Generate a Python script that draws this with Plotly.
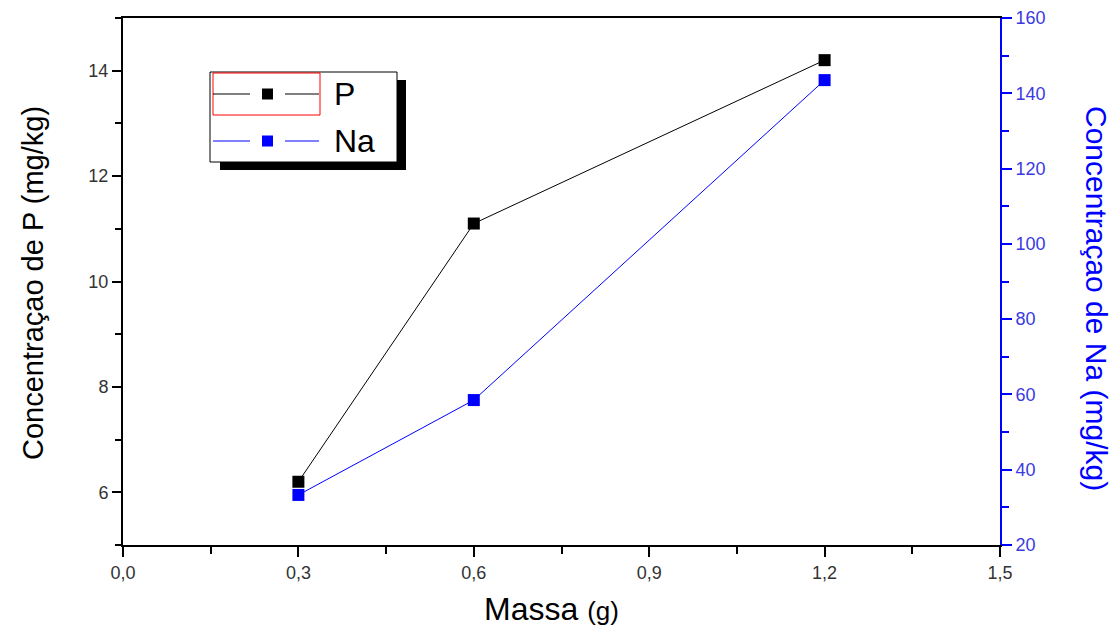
import plotly.graph_objects as go

# Data
massa = [0.3, 0.6, 1.2]
conc_p = [6.2, 11.1, 14.2]
conc_na = [33.3, 58.5, 143.5]
x_ticks = [0.0, 0.3, 0.6, 0.9, 1.2, 1.5]
x_ticklabels = ["0,0", "0,3", "0,6", "0,9", "1,2", "1,5"]
p_ticks = [6, 8, 10, 12, 14]
na_ticks = [20, 40, 60, 80, 100, 120, 140, 160]

W, H = 1116, 633
L, R, T, B = 123, 1000, 18, 545
BLUE = "#0000ff"
FONT = "Liberation Sans, Arial, sans-serif"

def px(x):
    return (x - L) / (R - L)

def py(y):
    return (B - y) / (B - T)

fig = go.Figure()
fig.add_trace(go.Scatter(
    x=massa, y=conc_p, mode="lines+markers", name="P",
    line=dict(color="black", width=1),
    marker=dict(symbol="square", size=12, color="black"),
    showlegend=False))
fig.add_trace(go.Scatter(
    x=massa, y=conc_na, mode="lines+markers", name="Na", yaxis="y2",
    line=dict(color=BLUE, width=1),
    marker=dict(symbol="square", size=12, color=BLUE),
    showlegend=False))

shapes = []
# legend shadow & box
shapes.append(dict(type="rect", xref="paper", yref="paper",
                   x0=px(220), x1=px(406), y0=py(80), y1=py(170),
                   fillcolor="black", line=dict(width=0), layer="above"))
shapes.append(dict(type="rect", xref="paper", yref="paper",
                   x0=px(210), x1=px(397), y0=py(72), y1=py(162),
                   fillcolor="white", line=dict(color="black", width=1), layer="above"))
shapes.append(dict(type="rect", xref="paper", yref="paper",
                   x0=px(213), x1=px(320), y0=py(73), y1=py(115),
                   fillcolor="rgba(0,0,0,0)", line=dict(color="red", width=1), layer="above"))
for yy, col in [(94, "black"), (141, BLUE)]:
    for xa, xb in [(213, 250), (285, 319)]:
        shapes.append(dict(type="line", xref="paper", yref="paper",
                           x0=px(xa), x1=px(xb), y0=py(yy), y1=py(yy),
                           line=dict(color=col, width=1), layer="above"))
    shapes.append(dict(type="rect", xref="paper", yref="paper",
                       x0=px(262), x1=px(273), y0=py(yy - 5.5), y1=py(yy + 5.5),
                       fillcolor=col, line=dict(width=0), layer="above"))

annotations = [
    dict(text="P", x=px(332), y=py(94), xref="paper", yref="paper",
         xanchor="left", yanchor="middle", showarrow=False,
         font=dict(family=FONT, size=32, color="black")),
    dict(text="Na", x=px(332), y=py(141), xref="paper", yref="paper",
         xanchor="left", yanchor="middle", showarrow=False,
         font=dict(family=FONT, size=32, color="black")),
    dict(text="Concentraçao de P (mg/kg)", x=px(33), y=py(283),
         xref="paper", yref="paper", textangle=-90, showarrow=False,
         xanchor="center", yanchor="middle",
         font=dict(family=FONT, size=29, color="black")),
    dict(text="Concentraçao de Na (mg/kg)", x=px(1097), y=py(298),
         xref="paper", yref="paper", textangle=90, showarrow=False,
         xanchor="center", yanchor="middle",
         font=dict(family=FONT, size=30, color=BLUE)),
    dict(text="Massa <span style='font-size:26px'>(g)</span>", x=px(551), y=py(609),
         xref="paper", yref="paper", showarrow=False,
         xanchor="center", yanchor="middle",
         font=dict(family=FONT, size=32, color="black")),
]

tickfont = dict(family=FONT, size=18, color="#333333")

fig.update_layout(
    width=W, height=H,
    margin=dict(l=L, r=W - R, t=T, b=H - B, autoexpand=False),
    paper_bgcolor="white", plot_bgcolor="white",
    showlegend=False,
    shapes=shapes, annotations=annotations,
    xaxis=dict(range=[0, 1.5], tickvals=x_ticks, ticktext=x_ticklabels,
               showgrid=False, zeroline=False,
               showline=True, linecolor="black", linewidth=2, mirror=True,
               ticks="outside", ticklen=10, tickwidth=2, tickcolor="black",
               minor=dict(dtick=0.15, ticks="outside", ticklen=7, tickwidth=2,
                          tickcolor="black", showgrid=False),
               tickfont=tickfont),
    yaxis=dict(range=[5, 15], tickvals=p_ticks,
               showgrid=False, zeroline=False,
               showline=True, linecolor="black", linewidth=2,
               ticks="outside", ticklen=9, tickwidth=2, tickcolor="black",
               minor=dict(dtick=1, ticks="outside", ticklen=6, tickwidth=2,
                          tickcolor="black", showgrid=False),
               tickfont=tickfont),
    yaxis2=dict(range=[20, 160], tickvals=na_ticks, overlaying="y", side="right",
                showgrid=False, zeroline=False,
                showline=True, linecolor=BLUE, linewidth=2,
                ticks="outside", ticklen=10, tickwidth=2, tickcolor=BLUE,
                minor=dict(dtick=10, ticks="outside", ticklen=7, tickwidth=2,
                           tickcolor=BLUE, showgrid=False),
                tickfont=dict(family=FONT, size=18, color="#3a3ae0")),
)

fig.write_html("out.html", config={"displayModeBar": False},
               post_script="document.body.style.margin='0';document.body.style.overflow='hidden';")
